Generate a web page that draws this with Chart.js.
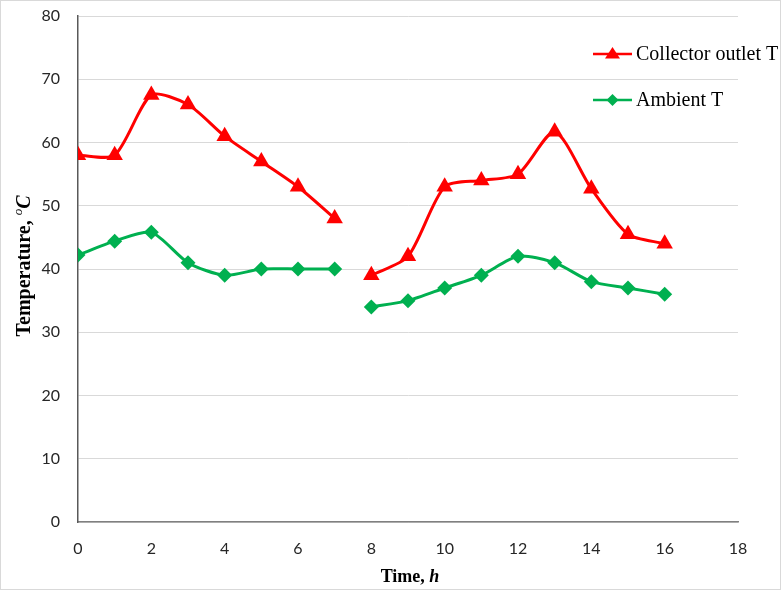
<!DOCTYPE html>
<html><head><meta charset="utf-8">
<script src="https://cdn.jsdelivr.net/npm/chart.js@4.4.1/dist/chart.umd.min.js"></script>
<style>html,body{margin:0;padding:0;background:#fff}#wrap{width:781px;height:590px;position:relative}</style>
</head><body><div id="wrap"><canvas id="c" width="781" height="590"></canvas></div>
<script>
const hours = [0,1,2,3,4,5,6,7,8,9,10,11,12,13,14,15,16];
const collectorT = [58,58,67.5,66,61,57,53,48,39,42,53,54,55,61.7,52.7,45.5,44];
const ambientT = [42.2,44.4,45.8,41,39,40,40,40,34,35,37,39,42,41,38,37,36];
const gapAfter = 7; // no line drawn between hour 7 and hour 8
const seriesNames = ['Collector outlet T','Ambient T'];
const xTicks = [0,2,4,6,8,10,12,14,16,18];
const yTicks = [0,10,20,30,40,50,60,70,80];

function toPoints(vals){
  const pts=[];
  hours.forEach((h,i)=>{
    pts.push({x:h,y:vals[i]});
    if(h===gapAfter) pts.push({x:h+0.5,y:null});
  });
  return pts;
}
const RED='#ff0000', GREEN='#00b050';

const overlay = {
  id:'overlay',
  afterDraw(chart){
    const ctx=chart.ctx;
    ctx.save();
    ctx.strokeStyle='#d9d9d9'; ctx.lineWidth=1;
    ctx.strokeRect(0.5,0.5,780,589);
    const items=[{t:seriesNames[0],c:RED,s:'triangle',y:54},{t:seriesNames[1],c:GREEN,s:'rectRot',y:100}];
    items.forEach(it=>{
      ctx.strokeStyle=it.c; ctx.lineWidth=2.5;
      ctx.beginPath(); ctx.moveTo(593,it.y); ctx.lineTo(632,it.y); ctx.stroke();
      ctx.fillStyle=it.c;
      ctx.beginPath();
      if(it.s==='triangle'){ctx.moveTo(612.5,it.y-7);ctx.lineTo(620,it.y+4.5);ctx.lineTo(605,it.y+4.5);}
      else {ctx.moveTo(612.5,it.y-6);ctx.lineTo(618.5,it.y);ctx.lineTo(612.5,it.y+6);ctx.lineTo(606.5,it.y);}
      ctx.closePath(); ctx.fill();
      ctx.fillStyle='#000'; ctx.font='20px "Liberation Serif"'; ctx.textBaseline='middle'; ctx.textAlign='left';
      ctx.fillText(it.t,636,it.y+1);
    });
    ctx.fillStyle='#000'; ctx.textBaseline='middle';
    const p1='Time, ', p2='h';
    ctx.font='bold 18px "Liberation Serif"'; const w1=ctx.measureText(p1).width;
    ctx.font='bold italic 18px "Liberation Serif"'; const w2=ctx.measureText(p2).width;
    let sx=410-(w1+w2)/2;
    ctx.font='bold 18px "Liberation Serif"'; ctx.textAlign='left'; ctx.fillText(p1,sx,577);
    ctx.font='bold italic 18px "Liberation Serif"'; ctx.fillText(p2,sx+w1,577);
    ctx.translate(25,266); ctx.rotate(-Math.PI/2);
    const q1='Temperature, ', q2='o', q3='C';
    ctx.font='bold 20px "Liberation Serif"'; const v1=ctx.measureText(q1).width;
    ctx.font='italic 13px "Liberation Serif"'; const v2=ctx.measureText(q2).width;
    ctx.font='bold italic 20px "Liberation Serif"'; const v3=ctx.measureText(q3).width;
    let sy=-(v1+v2+v3)/2;
    ctx.font='bold 20px "Liberation Serif"'; ctx.fillText(q1,sy,0);
    ctx.font='italic 13px "Liberation Serif"'; ctx.fillText(q2,sy+v1,-6);
    ctx.font='bold italic 20px "Liberation Serif"'; ctx.fillText(q3,sy+v1+v2,0);
    ctx.restore();
  }
};

new Chart(document.getElementById('c'),{
  type:'line',
  data:{datasets:[
    {label:seriesNames[0],data:toPoints(collectorT),borderColor:RED,backgroundColor:RED,borderWidth:3,
     pointStyle:'triangle',pointRadius:9.5,pointHoverRadius:9.5,pointBorderWidth:0,tension:0.25,spanGaps:false},
    {label:seriesNames[1],data:toPoints(ambientT),borderColor:GREEN,backgroundColor:GREEN,borderWidth:3,
     pointStyle:'rectRot',pointRadius:7.5,pointHoverRadius:7.5,pointBorderWidth:0,tension:0.25,spanGaps:false}
  ]},
  options:{
    responsive:false,animation:false,
    layout:{padding:{left:0,right:43,top:16,bottom:0}},
    plugins:{legend:{display:false},tooltip:{enabled:false}},
    scales:{
      x:{type:'linear',min:0,max:18,
        afterBuildTicks(s){s.ticks=xTicks.map(v=>({value:v}));},
        afterFit(s){s.height=68;s.paddingLeft=0;s.paddingRight=0;},
        grid:{display:false,drawTicks:false},
        border:{color:'#808080',width:1.5},
        ticks:{padding:17,color:'#262626',font:{family:'Lato',size:16},maxRotation:0}
      },
      y:{min:0,max:80,
        afterBuildTicks(s){s.ticks=yTicks.map(v=>({value:v}));},
        afterFit(s){s.width=78;s.paddingTop=0;s.paddingBottom=0;},
        grid:{color:'#d9d9d9',lineWidth:1,drawTicks:false},
        border:{color:'#595959',width:1.5},
        ticks:{padding:18,color:'#262626',font:{family:'Lato',size:16}}
      }
    }
  },
  plugins:[overlay]
});
</script></body></html>
